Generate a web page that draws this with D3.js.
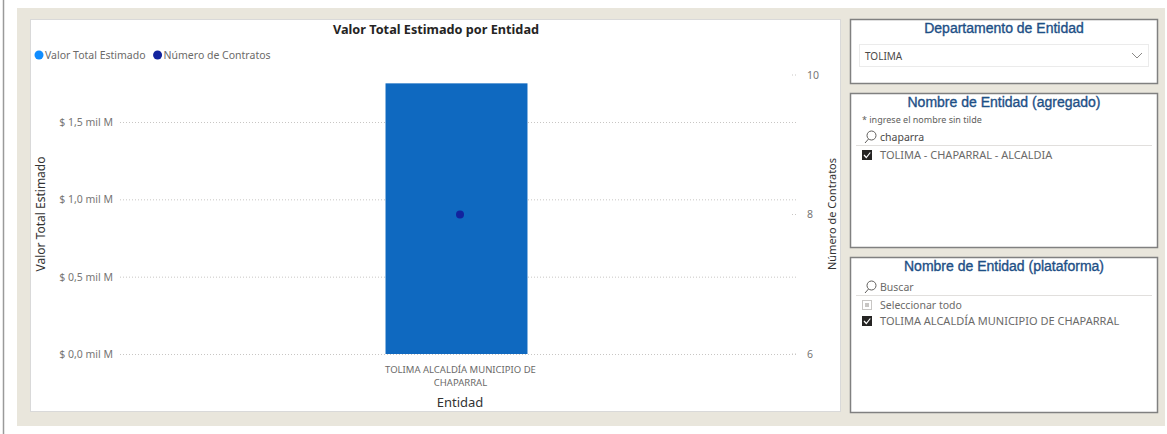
<!DOCTYPE html>
<html>
<head>
<meta charset="utf-8">
<script src="https://cdn.jsdelivr.net/npm/d3@7"></script>
<style>
  body { margin: 0; background: #fff; }
  svg text { font-family: "Segoe UI", "Noto Sans", sans-serif; }
  .slicer text { font-family: "Liberation Sans", Arial, sans-serif; }
</style>
</head>
<body>
<div id="report"></div>
<script>
'use strict';

// data
const entidades = ["TOLIMA ALCALDÍA MUNICIPIO DE CHAPARRAL"];
const valorTotal = [1.75e9];
const numContratos = [8];
const leftTicks = [0, 0.5e9, 1.0e9, 1.5e9];
const rightTicks = [6, 8, 10];
const legendItems = ["Valor Total Estimado", "Número de Contratos"];
const legendColors = ["#118DFF", "#12239E"];

const W = 1167, H = 434;
const svg = d3.select("#report").append("svg")
    .attr("width", W).attr("height", H)
    .attr("viewBox", `0 0 ${W} ${H}`);

// page frame
svg.append("line").attr("x1", 3.5).attr("x2", 3.5).attr("y1", 0).attr("y2", H)
    .attr("stroke", "#9a9a9a").attr("stroke-width", 1.5);
svg.append("rect").attr("x", 17).attr("y", 8).attr("width", 1148).attr("height", 418)
    .attr("fill", "#E9E6DC");

// chart card
svg.append("rect").attr("x", 30.5).attr("y", 19.5).attr("width", 810).attr("height", 392)
    .attr("fill", "#fff").attr("stroke", "#d9d9d9");

svg.append("text").attr("x", 436).attr("y", 34).attr("text-anchor", "middle")
    .attr("font-size", 12.7).attr("font-weight", "bold").attr("fill", "#252423")
    .text("Valor Total Estimado por Entidad");

// legend
let lx = 39;
legendItems.forEach((t, i) => {
    svg.append("circle").attr("cx", lx).attr("cy", 55).attr("r", 4.5).attr("fill", legendColors[i]);
    let tx = svg.append("text").attr("x", lx + 6).attr("y", 59)
        .attr("font-size", 10.5).attr("fill", "#6b6a69").text(t);
    lx += tx.node().getComputedTextLength() + 18;
});

const plot = {left: 120, right: 797, top: 75, bottom: 354};

let x = d3.scaleBand()
    .domain(entidades)
    .range([plot.left, plot.right])
    .padding(0.6533);

let yL = d3.scaleLinear()
    .domain([0, 1.804e9])
    .range([plot.bottom, plot.top]);

let yR = d3.scaleLinear()
    .domain([6, 10])
    .range([plot.bottom, plot.top]);

const fmtL = d => "$ " + (d / 1e9).toFixed(1).replace(".", ",") + " mil M";

// left axis + grid
svg.append("g")
    .attr("transform", `translate(${plot.left},0)`)
    .call(d3.axisLeft(yL).tickValues(leftTicks).tickFormat(fmtL).tickSize(-(plot.right - plot.left)).tickPadding(7))
    .call(g => g.select(".domain").remove())
    .call(g => g.selectAll("line").attr("stroke", "#c8c6c4").attr("stroke-dasharray", "1,2"))
    .call(g => g.selectAll("text").attr("fill", "#777675").attr("font-size", 10.5)
        .style("font-family", '"Segoe UI", "Noto Sans", sans-serif'));

// right axis (short dotted stubs)
svg.append("g")
    .attr("transform", `translate(${plot.right},0)`)
    .call(d3.axisRight(yR).tickValues(rightTicks).tickFormat(d3.format("d")).tickSize(0).tickPadding(10))
    .call(g => g.select(".domain").remove())
    .call(g => g.selectAll("text").attr("fill", "#777675").attr("font-size", 10.5)
        .style("font-family", '"Segoe UI", "Noto Sans", sans-serif'));
svg.append("g").selectAll("line").data(rightTicks).join("line")
    .attr("x1", plot.right - 5).attr("x2", plot.right + 1)
    .attr("y1", d => yR(d)).attr("y2", d => yR(d))
    .attr("stroke", "#c8c6c4").attr("stroke-dasharray", "1,2");

// bars
svg.append("g").selectAll("rect").data(entidades).join("rect")
    .attr("x", d => x(d) - 2)
    .attr("y", (d, i) => yL(valorTotal[i]))
    .attr("width", x.bandwidth())
    .attr("height", (d, i) => plot.bottom - yL(valorTotal[i]))
    .attr("fill", "#0F69C0");

// points
svg.append("g").selectAll("circle").data(entidades).join("circle")
    .attr("cx", d => x(d) + x.bandwidth() / 2 + 1.5)
    .attr("cy", (d, i) => yR(numContratos[i]))
    .attr("r", 4)
    .attr("fill", "#12239E");

// category labels (wrapped)
svg.append("g").selectAll("text").data(entidades).join("text")
    .attr("text-anchor", "middle").attr("font-size", 9.5).attr("fill", "#6b6a69")
    .each(function(d) {
        let words = d.split(" ");
        let lines = [words.slice(0, 4).join(" "), words.slice(4).join(" ")];
        d3.select(this).selectAll("tspan").data(lines).join("tspan")
            .attr("x", x(d) + x.bandwidth() / 2 + 2)
            .attr("y", (l, j) => 373 + j * 13)
            .text(l => l);
    });

// axis titles
svg.append("text").attr("x", 460).attr("y", 407).attr("text-anchor", "middle")
    .attr("font-size", 13).attr("fill", "#333").text("Entidad");
svg.append("text").attr("transform", "translate(45,214) rotate(-90)").attr("text-anchor", "middle")
    .attr("font-size", 12).attr("fill", "#333").text("Valor Total Estimado");
svg.append("text").attr("transform", "translate(836,214) rotate(-90)").attr("text-anchor", "middle")
    .attr("font-size", 11).attr("fill", "#333").text("Número de Contratos");

// slicers
const slicer = svg.append("g").attr("class", "slicer");
const panels = [
    {y: 19, h: 64, title: "Departamento de Entidad"},
    {y: 93, h: 154, title: "Nombre de Entidad (agregado)"},
    {y: 257, h: 155, title: "Nombre de Entidad (plataforma)"}
];
panels.forEach(p => {
    slicer.append("rect").attr("x", 850.5).attr("y", p.y + 0.5).attr("width", 307).attr("height", p.h)
        .attr("fill", "#fff").attr("stroke", "#808080").attr("stroke-width", 1.5);
    slicer.append("text").attr("x", 1004).attr("y", p.y + 14).attr("text-anchor", "middle")
        .attr("font-size", 14).attr("fill", "#1D4F86")
        .attr("stroke", "#1D4F86").attr("stroke-width", 0.35).text(p.title);
});

// dropdown
slicer.append("rect").attr("x", 859.5).attr("y", 44.5).attr("width", 289).attr("height", 22)
    .attr("fill", "#fff").attr("stroke", "#ebebeb");
slicer.append("text").attr("x", 865).attr("y", 60).attr("font-size", 10).attr("fill", "#4a4948")
    .style("font-family", '"Segoe UI", "Noto Sans", sans-serif').text("TOLIMA");
slicer.append("path").attr("d", "M1132,53 L1137,58 L1142,53").attr("fill", "none")
    .attr("stroke", "#8a8886").attr("stroke-width", 1);

function searchIcon(cx, cy) {
    slicer.append("circle").attr("cx", cx + 2.5).attr("cy", cy - 2.5).attr("r", 4.5)
        .attr("fill", "none").attr("stroke", "#605E5C").attr("stroke-width", 1);
    slicer.append("line").attr("x1", cx - 0.5).attr("y1", cy + 1).attr("x2", cx - 4).attr("y2", cy + 5)
        .attr("stroke", "#605E5C").attr("stroke-width", 1);
}
function checkbox(x0, y0, checked) {
    if (checked) {
        slicer.append("rect").attr("x", x0).attr("y", y0).attr("width", 10).attr("height", 10).attr("fill", "#252423");
        slicer.append("path").attr("d", `M${x0 + 2},${y0 + 5} L${x0 + 4.3},${y0 + 7.5} L${x0 + 8.3},${y0 + 2.5}`)
            .attr("fill", "none").attr("stroke", "#fff").attr("stroke-width", 1.2);
    } else {
        slicer.append("rect").attr("x", x0 + 0.5).attr("y", y0 + 0.5).attr("width", 9).attr("height", 9)
            .attr("fill", "#fff").attr("stroke", "#c8c6c4");
        slicer.append("rect").attr("x", x0 + 3).attr("y", y0 + 3).attr("width", 4).attr("height", 4).attr("fill", "#c8c6c4");
    }
}
const smallText = (x0, y0, t, size, col) => slicer.append("text").attr("x", x0).attr("y", y0)
    .attr("font-size", size).attr("fill", col || "#6b6a69")
    .style("font-family", '"Segoe UI", "Noto Sans", sans-serif').text(t);

// panel 2
smallText(862, 123, "* ingrese el nombre sin tilde", 9, "#605E5C");
searchIcon(869, 138);
smallText(880, 141, "chaparra", 10.5, "#4a4948");
slicer.append("line").attr("x1", 856).attr("x2", 1152).attr("y1", 145.5).attr("y2", 145.5).attr("stroke", "#e1dfdd");
checkbox(862, 150, true);
smallText(880, 159, "TOLIMA - CHAPARRAL - ALCALDIA", 11);

// panel 3
searchIcon(869, 288);
smallText(880, 291, "Buscar", 10.5);
slicer.append("line").attr("x1", 856).attr("x2", 1152).attr("y1", 295.5).attr("y2", 295.5).attr("stroke", "#e1dfdd");
checkbox(862, 300, false);
smallText(880, 309, "Seleccionar todo", 10.5);
checkbox(862, 316, true);
smallText(880, 325, "TOLIMA ALCALDÍA MUNICIPIO DE CHAPARRAL", 11);
</script>
</body>
</html>
